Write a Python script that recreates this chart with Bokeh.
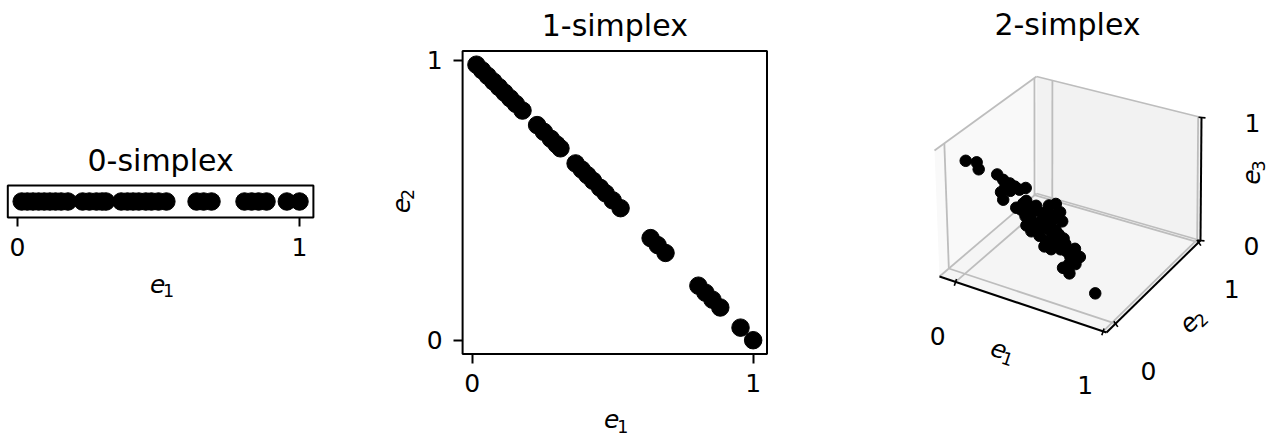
import numpy as np
from bokeh.core.properties import value
from bokeh.embed import file_html
from bokeh.layouts import row
from bokeh.models import FixedTicker, Range1d
from bokeh.plotting import figure
from bokeh.resources import INLINE

FONT = "DejaVu Sans"
H = 437

# Samples on the 0- and 1-simplex (e1 coordinate, and e2 for the 1-simplex)
e1_samples = [0.015, 0.035, 0.055, 0.075, 0.095, 0.115, 0.135, 0.155, 0.179,
              0.231, 0.255, 0.280, 0.300, 0.314,
              0.368, 0.390, 0.410, 0.430, 0.455, 0.475, 0.500, 0.528,
              0.635, 0.660, 0.688,
              0.805, 0.830, 0.855, 0.883,
              0.955, 1.000]
e2_samples = [0.985, 0.965, 0.945, 0.925, 0.905, 0.885, 0.865, 0.845, 0.821,
              0.769, 0.745, 0.720, 0.700, 0.686,
              0.632, 0.610, 0.590, 0.570, 0.545, 0.525, 0.500, 0.472,
              0.365, 0.340, 0.312,
              0.195, 0.170, 0.145, 0.117,
              0.045, 0.000]

# Samples on the 2-simplex
e1_tri = [0.014, 0.057, 0.111, 0.052, 0.077, 0.072, 0.077, 0.016, 0.252, 0.266,
          0.158, 0.333, 0.223, 0.221, 0.368, 0.420, 0.076, 0.062, 0.134, 0.189,
          0.249, 0.381, 0.505, 0.518, 0.580, 0.354, 0.370, 0.318, 0.416, 0.491,
          0.561, 0.667, 0.708, 0.788, 0.362, 0.288,
          0.319, 0.368, 0.325, 0.178, 0.260, 0.361, 0.539, 0.470, 0.498, 0.540,
          0.634, 0.163, 0.081, 0.150, 0.164, 0.191, 0.348, 0.588, 0.172,
          0.226, 0.430, 0.446, 0.514, 0.203, 0.166, 0.424, 0.452]
e2_tri = [0.028, 0.078, 0.010, 0.310, 0.335, 0.416, 0.464, 0.689, 0.019, 0.018,
          0.253, 0.051, 0.378, 0.462, 0.095, 0.016, 0.855, 0.959, 0.887, 0.731,
          0.495, 0.192, 0.020, 0.072, 0.023, 0.497, 0.525, 0.520, 0.578, 0.506,
          0.314, 0.008, 0.011, 0.172, 0.371, 0.293,
          0.129, 0.158, 0.342, 0.646, 0.564, 0.415, 0.016, 0.297, 0.339, 0.312,
          0.133, 0.271, 0.510, 0.238, 0.559, 0.814, 0.381, 0.288, 0.434,
          0.309, 0.143, 0.283, 0.245, 0.582, 0.744, 0.453, 0.017]
e3_tri = [0.889, 0.865, 0.865, 0.638, 0.589, 0.512, 0.460, 0.295, 0.729, 0.675,
          0.589, 0.617, 0.400, 0.317, 0.537, 0.529, 0.069, 0.012, 0.013, 0.080,
          0.256, 0.427, 0.476, 0.410, 0.397, 0.149, 0.105, 0.162, 0.006, 0.012,
          0.125, 0.293, 0.263, 0.040, 0.266, 0.419,
          0.552, 0.474, 0.333, 0.176, 0.177, 0.224, 0.408, 0.233, 0.163, 0.148,
          0.234, 0.567, 0.410, 0.613, 0.278, 0.003, 0.271, 0.125, 0.395,
          0.465, 0.428, 0.272, 0.241, 0.216, 0.091, 0.124, 0.494]

tick_values = [0, 1]
tick_labels = ["0", "1"]
titles = ["0-simplex", "1-simplex", "2-simplex"]
axis_base = "e"
axis_subs = ["1", "2", "3"]


def padded(vals, frac=0.05):
    lo, hi = min(vals), max(vals)
    pad = (hi - lo) * frac
    return lo - pad, hi + pad


def canvas_ranges(width, box, xlim, ylim):
    """Ranges for a full-canvas frame so that the data box (xlim, ylim)
    lands on the pixel box (left, right, top, bottom)."""
    left, right, top, bottom = box
    sx = (right - left) / (xlim[1] - xlim[0])
    x0 = xlim[0] - left / sx
    sy = (bottom - top) / (ylim[1] - ylim[0])
    y1 = ylim[1] + top / sy
    return Range1d(x0, x0 + width / sx), Range1d(y1 - H / sy, y1)


def base_figure(width, xr=None, yr=None):
    p = figure(width=width, height=H, x_range=xr, y_range=yr, min_border=0,
               output_backend="svg", toolbar_location=None)
    p.grid.visible = False
    p.outline_line_color = None
    p.background_fill_color = "white"
    p.border_fill_color = "white"
    return p


def style_axis(axis, location):
    axis.fixed_location = location
    axis.ticker = FixedTicker(ticks=tick_values)
    axis.minor_tick_line_color = None
    axis.major_tick_in = 0
    axis.major_tick_out = 9
    axis.major_tick_line_width = 2
    axis.major_tick_line_color = "black"
    axis.axis_line_color = None
    axis.major_label_text_font = FONT
    axis.major_label_text_font_size = "25px"
    axis.major_label_text_color = "black"
    axis.major_label_standoff = 11


def title_text(p, x, y, text, y_offset=0):
    p.text([x], [y], text=[text], y_offset=y_offset, text_font=value(FONT),
           text_font_size="30px", text_align="center",
           text_baseline="alphabetic", text_color="black")


def axis_name(p, x, y, sub, angle=0.0, dx=0.0, dy=0.0):
    """Italic 'e' with an upright subscript digit, rotated by angle."""
    ca, sa = np.cos(angle), np.sin(angle)
    along = (ca, -sa)
    down = (sa, ca)
    parts = [(axis_base, "25px", "italic", -3.0, 0.0),
             (sub, "17.5px", "normal", 8.0, 7.0)]
    for txt, size, style, a, d in parts:
        p.text([x], [y], text=[txt], angle=angle,
               x_offset=dx + a * along[0] + d * down[0],
               y_offset=dy + a * along[1] + d * down[1],
               text_font=value(FONT), text_font_size=size,
               text_font_style=style, text_align="center",
               text_baseline="middle", text_color="black")


def box(p, xlim, ylim):
    p.quad(left=[xlim[0]], right=[xlim[1]], bottom=[ylim[0]], top=[ylim[1]],
           fill_color=None, line_color="black", line_width=2)


# ---- 0-simplex: points along a single line
x1lim = padded(e1_samples)
y1lim = (-1.0, 1.0)
xr1, yr1 = canvas_ranges(380, (7.3, 312.9, 185, 217), x1lim, y1lim)
p1 = base_figure(380, xr1, yr1)
p1.yaxis.visible = False
style_axis(p1.xaxis[0], y1lim[0])
p1.scatter(e1_samples, [0] * len(e1_samples), size=17.5, color="black")
box(p1, x1lim, y1lim)
xm1 = (x1lim[0] + x1lim[1]) / 2
title_text(p1, xm1, y1lim[1], titles[0], y_offset=-25.5)
axis_name(p1, xm1, y1lim[0], axis_subs[0], dy=66)

# ---- 1-simplex: points on the segment e1 + e2 = 1
x2lim = padded(e1_samples)
y2lim = padded(e2_samples)
xr2, yr2 = canvas_ranges(520, (82.1, 386.5, 50.4, 353.5), x2lim, y2lim)
p2 = base_figure(520, xr2, yr2)
style_axis(p2.xaxis[0], y2lim[0])
style_axis(p2.yaxis[0], x2lim[0])
p2.scatter(e1_samples, e2_samples, size=17.5, color="black")
box(p2, x2lim, y2lim)
xm2 = (x2lim[0] + x2lim[1]) / 2
ym2 = (y2lim[0] + y2lim[1]) / 2
title_text(p2, xm2, y2lim[1], titles[1], y_offset=-25.5)
axis_name(p2, xm2, y2lim[0], axis_subs[0], dy=65)
axis_name(p2, x2lim[0], ym2, axis_subs[1], angle=np.pi / 2, dx=-62)

# ---- 2-simplex: a 3D box drawn with a perspective-like projection
W3 = 377
p3 = base_figure(W3, Range1d(0, W3), Range1d(0, H))
p3.axis.visible = False

# axis limits of the 3D box
E_LIMS = [(-0.109, 1.023), (-0.109, 1.023), (0.0, 1.0)]
# projected corners of the box, keyed by (e1, e2, e3) end (0 = low, 1 = high)
BOX = {(0, 0, 0): (39, 161), (1, 0, 0): (206, 105),
       (1, 1, 0): (300, 197), (0, 1, 0): (136, 244),
       (0, 0, 1): (34, 287), (1, 0, 1): (204, 237),
       (1, 1, 1): (301, 320), (0, 1, 1): (136, 361)}


def proj_n(u, v, w):
    u = np.asarray(u, float)
    v = np.asarray(v, float)
    w = np.asarray(w, float)
    x = np.zeros(np.broadcast(u, v, w).shape)
    y = np.zeros_like(x)
    for (i, j, k), (cx, cy) in BOX.items():
        wt = (u if i else 1 - u) * (v if j else 1 - v) * (w if k else 1 - w)
        x = x + wt * cx
        y = y + wt * cy
    return x, y


def norm(vals, axis):
    lo, hi = E_LIMS[axis]
    return (np.asarray(vals, float) - lo) / (hi - lo)


def seg(a, b):
    xa, ya = proj_n(*a)
    xb, yb = proj_n(*b)
    return [float(xa), float(xb)], [float(ya), float(yb)]


# panes: left wall (e1 low), back wall (e2 high), floor (e3 low)
panes = [
    ([(0, 0, 0), (0, 1, 0), (0, 1, 1), (0, 0, 1)], "#f9f9f9"),
    ([(0, 1, 0), (1, 1, 0), (1, 1, 1), (0, 1, 1)], "#f2f2f2"),
    ([(0, 0, 0), (1, 0, 0), (1, 1, 0), (0, 1, 0)], "#f5f5f5"),
]
for corners, col in panes:
    xs, ys = zip(*[proj_n(*c) for c in corners])
    p3.patch([float(x) for x in xs], [float(y) for y in ys],
             fill_color=col, line_color=None)

# grid lines at the tick values
gx, gy = [], []
for t in tick_values:
    u = float(norm(t, 0))
    v = float(norm(t, 1))
    w = float(norm(t, 2))
    for a, b in [((u, 0, 0), (u, 1, 0)), ((u, 1, 0), (u, 1, 1)),
                 ((0, v, 0), (1, v, 0)), ((0, v, 0), (0, v, 1)),
                 ((0, 0, w), (0, 1, w)), ((0, 1, w), (1, 1, w))]:
        sx, sy = seg(a, b)
        gx.append(sx)
        gy.append(sy)
p3.multi_line(gx, gy, line_color="#bdbdbd", line_width=1.8)

# axis lines
ax_segs = [((0, 0, 0), (1, 0, 0)), ((1, 0, 0), (1, 1, 0)), ((1, 1, 0), (1, 1, 1))]
axx, axy = zip(*[seg(a, b) for a, b in ax_segs])
p3.multi_line(list(axx), list(axy), line_color="black", line_width=2)

# ticks and tick labels
label_offsets = [(-18, -54), (33, -47), (51, -5)]
tx, ty, lx, ly, lt = [], [], [], [], []
for axis in range(3):
    ox, oy = label_offsets[axis]
    d = np.hypot(ox, oy)
    dx, dy = ox / d, oy / d
    for t, lab in zip(tick_values, tick_labels):
        n = float(norm(t, axis))
        pt = [(n, 0, 0), (1, n, 0), (1, 1, n)][axis]
        px, py = proj_n(*pt)
        px, py = float(px), float(py)
        tx.append([px - 3 * dx, px + 4 * dx])
        ty.append([py - 3 * dy, py + 4 * dy])
        lx.append(px + ox)
        ly.append(py + oy)
        lt.append(lab)
p3.multi_line(tx, ty, line_color="black", line_width=1.6)
p3.text(lx, ly, text=lt, text_font=value(FONT), text_font_size="25px",
        text_align="center", text_baseline="middle", text_color="black")

# axis names, set along each axis
name_offsets = [(-21, -45), (37, -34), (50, 5)]
name_angles = [np.arctan2(-56, 167), np.arctan2(92, 94), np.pi / 2]
for axis, (a, b) in enumerate(ax_segs):
    mx, my = proj_n(*[(a[i] + b[i]) / 2 for i in range(3)])
    ox, oy = name_offsets[axis]
    axis_name(p3, float(mx) + ox, float(my) + oy, axis_subs[axis],
              angle=float(name_angles[axis]))

title_text(p3, 167, 413, titles[2])

sx, sy = proj_n(norm(e1_tri, 0), norm(e2_tri, 1), norm(e3_tri, 2))
p3.scatter(sx, sy, size=11.5, color="black")

layout = row(p1, p2, p3)
open("out.html", "w").write(file_html(layout, INLINE))
